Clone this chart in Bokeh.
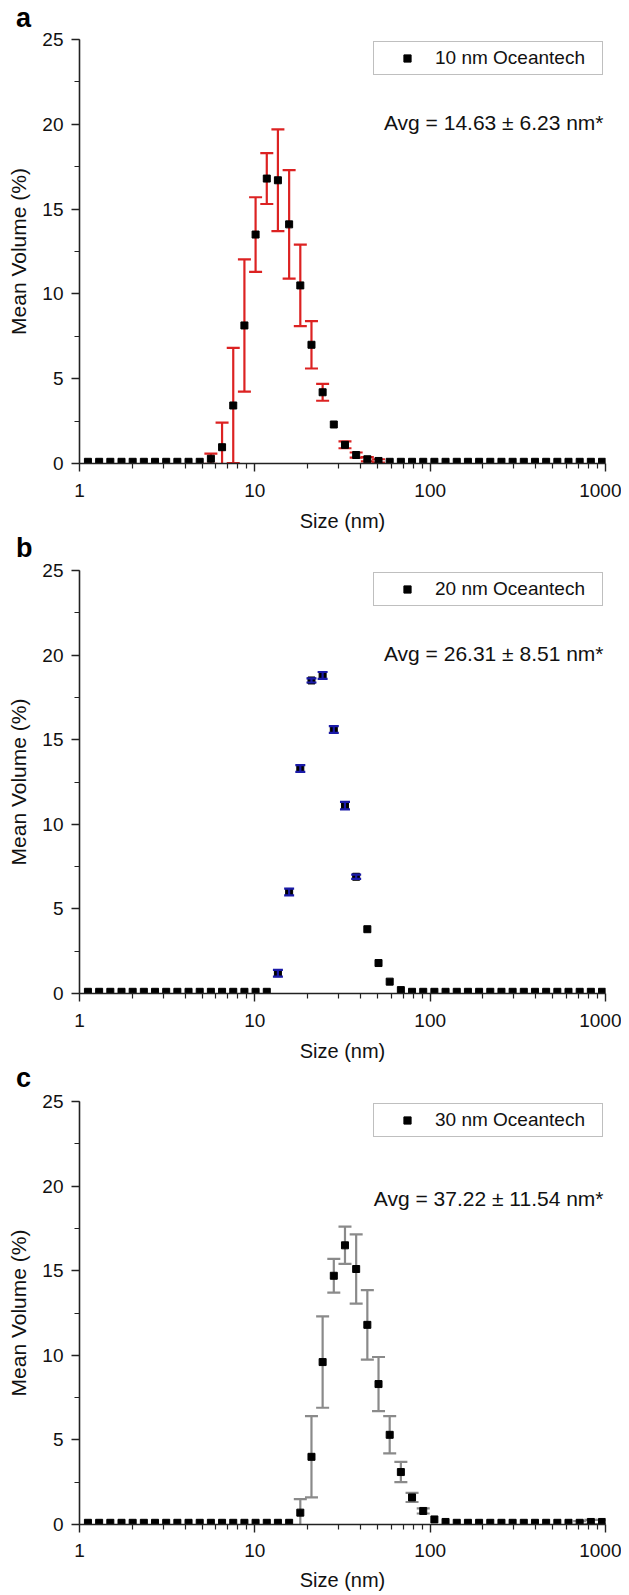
from bokeh.plotting import figure
from bokeh.models import (Range1d, FixedTicker, SingleIntervalTicker, NumeralTickFormatter,
                          Whisker, TeeHead, ColumnDataSource, Legend, LegendItem, Label, Div)
from bokeh.layouts import column
from bokeh.embed import file_html
from bokeh.resources import INLINE

# ---------------- data ----------------
sizes = [1.117, 1.294, 1.499, 1.736, 2.010, 2.328, 2.696, 3.122, 3.615, 4.187, 4.849,
         5.615, 6.503, 7.531, 8.721, 10.10, 11.70, 13.54, 15.69, 18.17, 21.04, 24.36,
         28.21, 32.67, 37.84, 43.82, 50.75, 58.77, 68.06, 78.82, 91.28, 105.7, 122.4,
         141.8, 164.2, 190.1, 220.2, 255.0, 295.3, 342.0, 396.1, 458.7, 531.2, 615.1,
         712.4, 825.0, 955.4]

vol_a = [0.1, 0.1, 0.1, 0.1, 0.1, 0.1, 0.1, 0.1, 0.1, 0.1, 0.1,
         0.28, 0.96, 3.42, 8.14, 13.5, 16.8, 16.7, 14.1, 10.5, 7.0, 4.2,
         2.3, 1.1, 0.5, 0.25, 0.15, 0.1, 0.1, 0.1, 0.1, 0.1, 0.1,
         0.1, 0.1, 0.1, 0.1, 0.1, 0.1, 0.1, 0.1, 0.1, 0.1, 0.1,
         0.1, 0.1, 0.1]
err_a = [0, 0, 0, 0, 0, 0, 0, 0, 0, 0, 0,
         0.3, 1.45, 3.4, 3.9, 2.2, 1.5, 3.0, 3.2, 2.4, 1.4, 0.5,
         0, 0.2, 0.15, 0.12, 0.1, 0, 0, 0, 0, 0, 0,
         0, 0, 0, 0, 0, 0, 0, 0, 0, 0, 0,
         0, 0, 0]

vol_b = [0.1, 0.1, 0.1, 0.1, 0.1, 0.1, 0.1, 0.1, 0.1, 0.1, 0.1,
         0.1, 0.1, 0.1, 0.1, 0.1, 0.1, 1.2, 6.0, 13.3, 18.5, 18.8,
         15.6, 11.1, 6.9, 3.8, 1.8, 0.7, 0.2, 0.1, 0.1, 0.1, 0.1,
         0.1, 0.1, 0.1, 0.1, 0.1, 0.1, 0.1, 0.1, 0.1, 0.1, 0.1,
         0.1, 0.1, 0.1]
err_b = [0, 0, 0, 0, 0, 0, 0, 0, 0, 0, 0,
         0, 0, 0, 0, 0, 0, 0.2, 0.2, 0.2, 0.12, 0.2,
         0.2, 0.22, 0.12, 0, 0, 0, 0, 0, 0, 0, 0,
         0, 0, 0, 0, 0, 0, 0, 0, 0, 0, 0,
         0, 0, 0]

vol_c = [0.1, 0.1, 0.1, 0.1, 0.1, 0.1, 0.1, 0.1, 0.1, 0.1, 0.1,
         0.1, 0.1, 0.1, 0.1, 0.1, 0.1, 0.1, 0.1, 0.7, 4.0, 9.6,
         14.7, 16.5, 15.1, 11.8, 8.3, 5.3, 3.1, 1.6, 0.8, 0.3, 0.15,
         0.1, 0.1, 0.1, 0.1, 0.1, 0.1, 0.1, 0.1, 0.1, 0.1, 0.1,
         0.1, 0.15, 0.15]
err_c = [0, 0, 0, 0, 0, 0, 0, 0, 0, 0, 0,
         0, 0, 0, 0, 0, 0, 0, 0, 0.8, 2.4, 2.7,
         1.0, 1.1, 2.05, 2.05, 1.6, 1.1, 0.6, 0.27, 0.15, 0, 0,
         0, 0, 0, 0, 0, 0, 0, 0, 0, 0, 0,
         0.1, 0.12, 0.12]

legend_labels = ["10 nm Oceantech", "20 nm Oceantech", "30 nm Oceantech"]
avg_texts = ["Avg = 14.63 \u00b1 6.23 nm*", "Avg = 26.31 \u00b1 8.51 nm*",
             "Avg = 37.22 \u00b1 11.54 nm*"]
letters = ["a", "b", "c"]
x_ticks = [1, 10, 100, 1000]
y_ticks_interval = 5

FONT = "Liberation Sans"
W = 621


def letter_div(letter, h, pad_top):
    return Div(text=letter, width=W, height=h, margin=0,
               styles={"font-family": FONT, "font-size": "27px", "font-weight": "bold",
                       "line-height": "21px", "padding-left": "16px",
                       "padding-top": "%dpx" % pad_top, "color": "black",
                       "overflow": "visible", "box-sizing": "border-box"})


def make_panel(vals, errs, ecolor, cap, elevel, leg_text, avg_text,
               height, b_top, b_bot, avg_dy, lab_standoff, axlab_standoff):
    p = figure(x_axis_type="log", x_range=Range1d(1, 1000), y_range=Range1d(0, 25),
               width=W, height=height,
               min_border_left=79, min_border_right=16,
               min_border_top=b_top, min_border_bottom=b_bot,
               output_backend="svg", toolbar_location=None,
               background_fill_color="white", border_fill_color="white")
    p.outline_line_color = None
    p.xgrid.visible = False
    p.ygrid.visible = False

    minor = [m * 10 ** d for d in range(3) for m in range(2, 10)]
    p.xaxis.ticker = FixedTicker(ticks=x_ticks, minor_ticks=minor)
    p.xaxis.formatter = NumeralTickFormatter(format="0")
    p.yaxis.ticker = SingleIntervalTicker(interval=y_ticks_interval, num_minor_ticks=2)

    for ax in (p.xaxis, p.yaxis):
        ax.axis_line_color = "#222222"
        ax.axis_line_width = 1.6
        ax.major_tick_line_color = "#222222"
        ax.major_tick_line_width = 1.4
        ax.minor_tick_line_color = "#222222"
        ax.minor_tick_line_width = 1.2
        ax.major_tick_in = 0
        ax.major_tick_out = 8
        ax.minor_tick_in = 0
        ax.minor_tick_out = 5
        ax.major_label_text_font = FONT
        ax.major_label_text_font_size = "19px"
        ax.major_label_text_color = "#111111"
        ax.axis_label_text_font = FONT
        ax.axis_label_text_font_style = "normal"
        ax.axis_label_text_color = "#111111"
    p.xaxis.axis_label_text_font_size = "20px"
    p.yaxis.axis_label_text_font_size = "21px"
    p.xaxis.axis_label = "Size (nm)"
    p.yaxis.axis_label = "Mean Volume (%)"
    p.xaxis.major_label_standoff = lab_standoff
    p.xaxis.axis_label_standoff = axlab_standoff
    p.yaxis.major_label_standoff = 8
    p.yaxis.axis_label_standoff = 9

    xs = [s for s, e in zip(sizes, errs) if e > 0]
    ys = [v for v, e in zip(vals, errs) if e > 0]
    es = [e for e in errs if e > 0]
    esrc = ColumnDataSource(dict(x=xs, up=[y + e for y, e in zip(ys, es)],
                                 lo=[y - e for y, e in zip(ys, es)]))
    w = Whisker(base="x", upper="up", lower="lo", source=esrc, dimension="height",
                line_color=ecolor, line_width=2.2, level=elevel,
                upper_head=TeeHead(size=cap, line_color=ecolor, line_width=2.2),
                lower_head=TeeHead(size=cap, line_color=ecolor, line_width=2.2))

    src = ColumnDataSource(dict(x=sizes, y=vals))
    if elevel == "underlay":
        p.add_layout(w)
    r = p.scatter("x", "y", source=src, marker="square", size=7,
                  fill_color="black", line_color="black")
    if elevel != "underlay":
        p.add_layout(w)

    frame_h = height - b_top - b_bot
    leg = Legend(items=[LegendItem(label=leg_text, renderers=[r])],
                 location="top_right", margin=2, padding=5, spacing=0,
                 glyph_width=56, glyph_height=18, label_height=18, label_width=162,
                 label_standoff=0, label_text_font=FONT, label_text_font_size="19px",
                 label_text_color="#111111",
                 border_line_color="#7f7f7f", border_line_width=1,
                 background_fill_color="white", background_fill_alpha=1.0)
    p.add_layout(leg)

    p.add_layout(Label(x=524, y=frame_h - avg_dy, x_units="screen", y_units="screen",
                       text=avg_text, text_align="right", text_baseline="middle",
                       text_font=FONT, text_font_size="21px", text_color="#111111"))
    return p


pa = make_panel(vol_a, err_a, "#dc2222", 13, "underlay", legend_labels[0], avg_texts[0],
                509, 10, 75, 83, 12, 10)
pb = make_panel(vol_b, err_b, "#1a1aa8", 10, "overlay", legend_labels[1], avg_texts[1],
                509, 11, 75, 83, 12, 10)
pc = make_panel(vol_c, err_c, "#8a8a8a", 13, "underlay", legend_labels[2], avg_texts[2],
                505, 12, 70, 97, 11, 9)

layout = column(letter_div(letters[0], 29, 8), pa,
                letter_div(letters[1], 21, 0), pb,
                letter_div(letters[2], 21, 0), pc, spacing=0)

with open("out.html", "w") as f:
    f.write(file_html(layout, INLINE))
